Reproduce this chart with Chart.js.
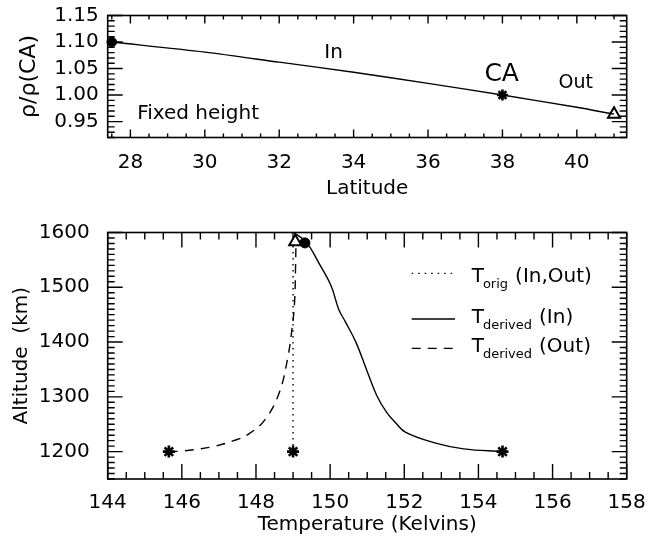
<!DOCTYPE html>
<html><head><meta charset="utf-8">
<script src="https://cdn.jsdelivr.net/npm/chart.js@4/dist/chart.umd.min.js"></script>
<style>
html,body{margin:0;padding:0;background:#fff;}
#wrap{position:relative;width:649px;height:542px;overflow:hidden;background:#fff;}
canvas{position:absolute;left:0;}
</style></head><body>
<div id="wrap">
<canvas id="topChart" width="649" height="210" style="top:0px"></canvas>
<canvas id="botChart" width="649" height="332" style="top:210px"></canvas>
</div>
<script>
// ---------- Top panel data ----------
const latitude      = [27.5, 30, 32, 34, 36, 38, 40, 41];
const densityRatio  = [1.100, 1.081, 1.062, 1.043, 1.022, 1.000, 0.977, 0.964];
const topInPoint    = {lat: 27.5, ratio: 1.100};
const topCAPoint    = {lat: 38,   ratio: 1.000};
const topOutPoint   = {lat: 41,   ratio: 0.964};
const latTicks      = [28, 30, 32, 34, 36, 38, 40];
const ratioTicks    = [0.95, 1.00, 1.05, 1.10, 1.15];

// ---------- Bottom panel data ----------
const tempIn  = [149.02, 149.36, 149.69, 150.03, 150.23, 150.42, 150.70, 150.98, 151.26, 151.53, 151.76, 152.04, 152.82, 153.60, 154.65];
const altIn   = [1600,   1582,   1545,   1502,   1460,   1436,   1399,   1350,   1302,   1271,   1253,   1235,   1216,   1205,   1200];
const tempOut = [145.65, 146.0, 146.5, 146.9, 147.4, 147.8, 148.25, 148.63, 148.85, 148.97, 149.04, 149.065, 149.08];
const altOut  = [1200,   1201,  1205,  1210,  1220,  1232,  1259,   1308,   1369,   1423,   1472,   1530,    1583];
const tempOrig = [149.0, 149.0];
const altOrig  = [1200, 1578];
const starTemps = [145.65, 149.0, 154.65];
const starAlts  = [1200, 1200, 1200];
const inTopPoint  = {t: 149.32, alt: 1581};
const outTopPoint = {t: 149.06, alt: 1583};
const tempTicks = [144, 146, 148, 150, 152, 154, 156, 158];
const altTicks  = [1200, 1300, 1400, 1500, 1600];

const FONT = "'DejaVu Sans', 'Liberation Sans', sans-serif";
Chart.defaults.font.family = FONT;
Chart.defaults.font.size = 20;
Chart.defaults.color = '#000';

const xy = (xs, ys) => xs.map((v, i) => ({x: v, y: ys[i]}));
function range(a, b, step) { const out = []; const n = Math.round((b - a) / step); for (let i = 0; i <= n; i++) out.push(+(a + i * step).toFixed(4)); return out; }

function makeFrame(cfg) {
  return {
    id: 'frame' + cfg.tag,
    afterDraw(chart) {
      const ctx = chart.ctx;
      const a = chart.chartArea;
      const sx = chart.scales.x, sy = chart.scales.y;
      ctx.save();
      ctx.setLineDash([]);
      ctx.strokeStyle = '#000';
      ctx.lineWidth = 1.4;
      ctx.beginPath();
      for (const v of cfg.xMinor.concat(cfg.xMajor)) {
        const len = cfg.xMajor.includes(v) ? cfg.xMajorLen : cfg.xMinorLen;
        const p = sx.getPixelForValue(v);
        if (!(p >= a.left - 0.5 && p <= a.right + 0.5)) continue;
        ctx.moveTo(p, a.bottom); ctx.lineTo(p, a.bottom - len);
        ctx.moveTo(p, a.top); ctx.lineTo(p, a.top + len);
      }
      for (const v of cfg.yMinor.concat(cfg.yMajor)) {
        const len = cfg.yMajor.includes(v) ? cfg.yMajorLen : cfg.yMinorLen;
        const p = sy.getPixelForValue(v);
        if (!(p >= a.top - 0.5 && p <= a.bottom + 0.5)) continue;
        ctx.moveTo(a.left, p); ctx.lineTo(a.left + len, p);
        ctx.moveTo(a.right, p); ctx.lineTo(a.right - len, p);
      }
      ctx.stroke();
      ctx.lineWidth = 1.6;
      ctx.strokeRect(a.left, a.top, a.right - a.left, a.bottom - a.top);
      ctx.restore();
    }
  };
}

function makeNotes(items) {
  return {
    id: 'notes',
    afterDraw(chart) {
      const ctx = chart.ctx, x = chart.scales.x, y = chart.scales.y;
      ctx.save();
      ctx.fillStyle = '#000';
      ctx.textAlign = 'center';
      ctx.textBaseline = 'middle';
      items.forEach(it => {
        ctx.font = it.size + 'px ' + FONT;
        ctx.fillText(it.text, x.getPixelForValue(it.x), y.getPixelForValue(it.y));
      });
      ctx.restore();
    }
  };
}

function makeLegend(o) {
  return {
    id: 'customLegend',
    afterDraw(chart) {
      const ctx = chart.ctx;
      ctx.save();
      ctx.strokeStyle = '#000';
      ctx.fillStyle = '#000';
      ctx.textBaseline = 'alphabetic';
      ctx.textAlign = 'left';
      o.items.forEach(it => {
        ctx.lineWidth = 1.3;
        ctx.setLineDash(it.dash);
        ctx.beginPath(); ctx.moveTo(o.lineX0, it.lineY); ctx.lineTo(o.lineX1, it.lineY); ctx.stroke();
        ctx.setLineDash([]);
        let xx = o.textX;
        ctx.font = '20px ' + FONT;
        ctx.fillText('T', xx, it.base);
        xx += ctx.measureText('T').width - 1;
        ctx.font = '13px ' + FONT;
        ctx.fillText(it.sub, xx, it.base + 6);
        xx += ctx.measureText(it.sub).width + 7;
        ctx.font = '20px ' + FONT;
        ctx.fillText(it.rest, xx, it.base);
      });
      ctx.restore();
    }
  };
}

const noPad = s => { s.paddingTop = 0; s.paddingBottom = 0; s.paddingLeft = 0; s.paddingRight = 0; };
const commonScale = (extra) => Object.assign({
  type: 'linear',
  grid: {display: false, drawTicks: false},
  border: {display: false},
}, extra);

// ---------- Top chart ----------
new Chart(document.getElementById('topChart'), {
  type: 'scatter',
  data: {
    datasets: [
      {data: xy(latitude, densityRatio), showLine: true, borderColor: '#000', borderWidth: 1.4, pointRadius: 0, tension: 0.3},
      {data: [{x: topInPoint.lat, y: topInPoint.ratio}], pointStyle: 'circle', pointRadius: 4.8, backgroundColor: '#000', borderColor: '#000', borderWidth: 1, clip: false},
      {data: [{x: topCAPoint.lat, y: topCAPoint.ratio}], pointStyle: 'star', pointRadius: 5.5, borderColor: '#000', borderWidth: 2.6, clip: false},
      {data: [{x: topOutPoint.lat, y: topOutPoint.ratio}], pointStyle: 'triangle', pointRadius: 7, backgroundColor: 'rgba(0,0,0,0)', borderColor: '#000', borderWidth: 2, clip: false}
    ]
  },
  options: {
    responsive: false, animation: false, devicePixelRatio: 1,
    layout: {padding: {top: 15.5, right: 22.3, left: 0, bottom: 0}},
    plugins: {legend: {display: false}, tooltip: {enabled: false}},
    scales: {
      x: commonScale({
        min: 27.39, max: 41.34, position: 'bottom',
        afterBuildTicks: s => { s.ticks = latTicks.map(v => ({value: v})); },
        afterFit: s => { s.height = 72.5; noPad(s); },
        ticks: {padding: 13, maxRotation: 0, autoSkip: false, callback: v => String(v)},
        title: {display: true, text: 'Latitude', padding: {top: 0, bottom: 9}}
      }),
      y: commonScale({
        min: 0.92, max: 1.15, position: 'left',
        afterBuildTicks: s => { s.ticks = ratioTicks.map(v => ({value: v})); },
        afterFit: s => { s.width = 107.7; noPad(s); },
        ticks: {padding: 9, autoSkip: false, callback: v => Number(v).toFixed(2)},
        title: {display: true, text: 'ρ/ρ(CA)', font: {size: 22}, padding: {top: 16, bottom: 0}}
      })
    }
  },
  plugins: [
    makeFrame({tag: 'T', xMajor: latTicks, xMinor: range(27.5, 41, 0.5), xMajorLen: 8, xMinorLen: 4,
               yMajor: ratioTicks, yMinor: range(0.92, 1.15, 0.01), yMajorLen: 15, yMinorLen: 7}),
    makeNotes([
      {text: 'In', x: 33.46, y: 1.0796, size: 20},
      {text: 'CA', x: 37.98, y: 1.0387, size: 25},
      {text: 'Out', x: 39.97, y: 1.023, size: 19},
      {text: 'Fixed height', x: 29.82, y: 0.9655, size: 20}
    ])
  ]
});

// ---------- Bottom chart ----------
new Chart(document.getElementById('botChart'), {
  type: 'scatter',
  data: {
    datasets: [
      {data: xy(tempOrig, altOrig), showLine: true, borderColor: '#000', borderWidth: 1.4, borderDash: [1.5, 4.5], pointRadius: 0},
      {data: xy(tempIn, altIn), showLine: true, borderColor: '#000', borderWidth: 1.4, pointRadius: 0, tension: 0.4},
      {data: xy(tempOut, altOut), showLine: true, borderColor: '#000', borderWidth: 1.4, borderDash: [9, 7], pointRadius: 0, tension: 0.4},
      {data: xy(starTemps, starAlts), pointStyle: 'star', pointRadius: 6, borderColor: '#000', borderWidth: 2.6, clip: false},
      {data: [{x: inTopPoint.t, y: inTopPoint.alt}], pointStyle: 'circle', pointRadius: 5, backgroundColor: '#000', borderColor: '#000', borderWidth: 1, clip: false},
      {data: [{x: outTopPoint.t, y: outTopPoint.alt}], pointStyle: 'triangle', pointRadius: 7, backgroundColor: 'rgba(0,0,0,0)', borderColor: '#000', borderWidth: 2, clip: false}
    ]
  },
  options: {
    responsive: false, animation: false, devicePixelRatio: 1,
    layout: {padding: {top: 22.5, right: 22.3, left: 0, bottom: 0}},
    plugins: {legend: {display: false}, tooltip: {enabled: false}},
    scales: {
      x: commonScale({
        min: 144, max: 158, position: 'bottom',
        afterBuildTicks: s => { s.ticks = tempTicks.map(v => ({value: v})); },
        afterFit: s => { s.height = 63; noPad(s); },
        ticks: {padding: 12, maxRotation: 0, autoSkip: false, callback: v => String(v)},
        title: {display: true, text: 'Temperature (Kelvins)', padding: {top: 0, bottom: 5}}
      }),
      y: commonScale({
        min: 1150, max: 1600, position: 'left',
        afterBuildTicks: s => { s.ticks = altTicks.map(v => ({value: v})); },
        afterFit: s => { s.width = 107.7; noPad(s); },
        ticks: {padding: 18, autoSkip: false, callback: v => String(v)},
        title: {display: true, text: 'Altitude  (km)', padding: {top: 10, bottom: 0}}
      })
    }
  },
  plugins: [
    makeFrame({tag: 'B', xMajor: tempTicks, xMinor: range(144, 158, 0.5), xMajorLen: 15, xMinorLen: 7,
               yMajor: altTicks, yMinor: range(1150, 1600, 10), yMajorLen: 15, yMinorLen: 7}),
    makeLegend({lineX0: 411.7, lineX1: 455, textX: 471.7, items: [
      {dash: [1.5, 5], lineY: 63.3, base: 71.7, sub: 'orig', rest: '(In,Out)'},
      {dash: [], lineY: 109, base: 113.3, sub: 'derived', rest: '(In)'},
      {dash: [9, 7], lineY: 138.3, base: 142.3, sub: 'derived', rest: '(Out)'}
    ]})
  ]
});
</script>
</body></html>
